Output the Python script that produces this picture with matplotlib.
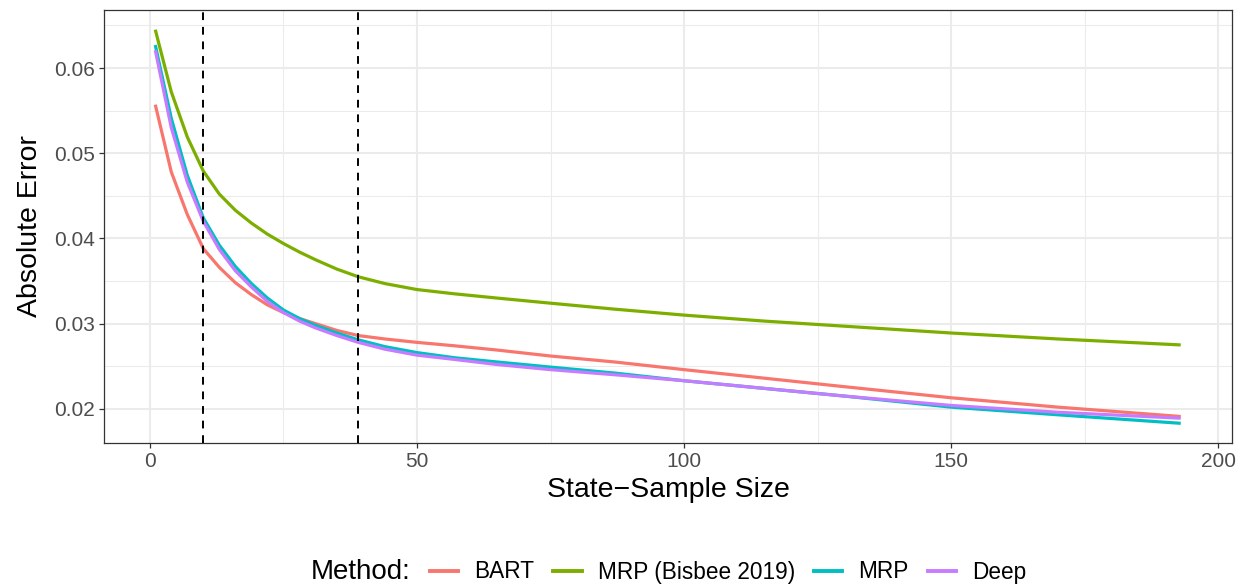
import numpy as np
import matplotlib
matplotlib.use("Agg")
import matplotlib.pyplot as plt
from matplotlib.lines import Line2D
from matplotlib.ticker import MultipleLocator

plt.rcParams['font.family'] = ['Liberation Sans', 'DejaVu Sans']

sample_size = [1, 4, 7, 10, 13, 16, 19, 22, 25, 28, 31, 35, 39, 44, 50, 57, 65, 75, 87, 100,
               115, 130, 150, 170, 193]

# absolute error per method
err_bart = [0.0557, 0.0478, 0.0428, 0.0388, 0.0366, 0.0348, 0.0334, 0.0322, 0.0313, 0.0306,
            0.0300, 0.0292, 0.0286, 0.0282, 0.0278, 0.0274, 0.0269, 0.0262, 0.0255, 0.0246,
            0.0236, 0.0226, 0.0213, 0.0202, 0.0191]
err_bisbee = [0.0645, 0.0572, 0.0519, 0.0479, 0.0452, 0.0433, 0.0418, 0.0405, 0.0394, 0.0384,
              0.0375, 0.0364, 0.0355, 0.0347, 0.0340, 0.0335, 0.0330, 0.0324, 0.0317, 0.0310,
              0.0303, 0.0297, 0.0289, 0.0282, 0.0275]
err_mrp = [0.0627, 0.0541, 0.0474, 0.0424, 0.0392, 0.0367, 0.0347, 0.0330, 0.0316, 0.0306,
           0.0298, 0.0289, 0.0281, 0.0273, 0.0266, 0.0260, 0.0255, 0.0249, 0.0242, 0.0233,
           0.0224, 0.0215, 0.0202, 0.0193, 0.0183]
err_deep = [0.0621, 0.0530, 0.0466, 0.0420, 0.0387, 0.0362, 0.0343, 0.0326, 0.0313, 0.0303,
            0.0295, 0.0286, 0.0278, 0.0270, 0.0263, 0.0258, 0.0252, 0.0246, 0.0240, 0.0233,
            0.0224, 0.0215, 0.0204, 0.0196, 0.0189]

methods = ["BART", "MRP (Bisbee 2019)", "MRP", "Deep"]
colors = ["#F8766D", "#7CAE00", "#00BFC4", "#C77CFF"]
cutoffs = [10, 39]

fig = plt.figure(figsize=(12.45, 5.86), dpi=100)
ax = fig.add_axes([104 / 1245, 1 - 443 / 586, (1232 - 104) / 1245, (443 - 10) / 586])

for vals, name, col in zip([err_bart, err_bisbee, err_mrp, err_deep], methods, colors):
    ax.plot(sample_size, vals, color=col, lw=2.3, label=name, solid_capstyle='butt',
            solid_joinstyle='round', zorder=3)

for c in cutoffs:
    ax.axvline(c, color='black', lw=1.4, linestyle=(0, (4, 3.5)), zorder=4)

# ggplot-like expansion of 5%
xr = max(sample_size) - min(sample_size)
ax.set_xlim(min(sample_size) - 0.05 * xr, max(sample_size) + 0.05 * xr)
all_vals = err_bart + err_bisbee + err_mrp + err_deep
yr = max(all_vals) - min(all_vals)
ax.set_ylim(min(all_vals) - 0.05 * yr, max(all_vals) + 0.05 * yr)

ax.xaxis.set_major_locator(MultipleLocator(50))
ax.xaxis.set_minor_locator(MultipleLocator(25))
ax.yaxis.set_major_locator(MultipleLocator(0.01))
ax.yaxis.set_minor_locator(MultipleLocator(0.005))
ax.yaxis.set_major_formatter(matplotlib.ticker.FuncFormatter(lambda v, p: f"{v:.2f}"))

ax.grid(which='major', color='#EBEBEB', lw=1.5, zorder=0)
ax.grid(which='minor', color='#EBEBEB', lw=0.75, zorder=0)
ax.set_axisbelow(True)

for s in ax.spines.values():
    s.set_color('#333333')
    s.set_linewidth(0.9)

ax.tick_params(which='major', length=3.5, width=0.9, color='#333333', labelcolor='#4D4D4D',
               labelsize=15, pad=3)
ax.tick_params(which='minor', length=0)

ax.set_xlabel("State\u2212Sample Size", fontsize=20.5, labelpad=4)
ax.set_ylabel("Absolute Error", fontsize=20.5, labelpad=8)

handles = [Line2D([], [], color=c, lw=2.8) for c in colors]
fig.text(311 / 1245, 1 - 572 / 586, "Method:", fontsize=20, va='center', ha='left')
fig.legend(handles, methods, loc='center left', bbox_to_anchor=(430 / 1245, 1 - 572 / 586),
           ncol=4, frameon=False, fontsize=16.3, handlelength=1.25, handletextpad=0.7,
           columnspacing=0.85, borderpad=0, borderaxespad=0)

fig.savefig("out.png", dpi=100)
